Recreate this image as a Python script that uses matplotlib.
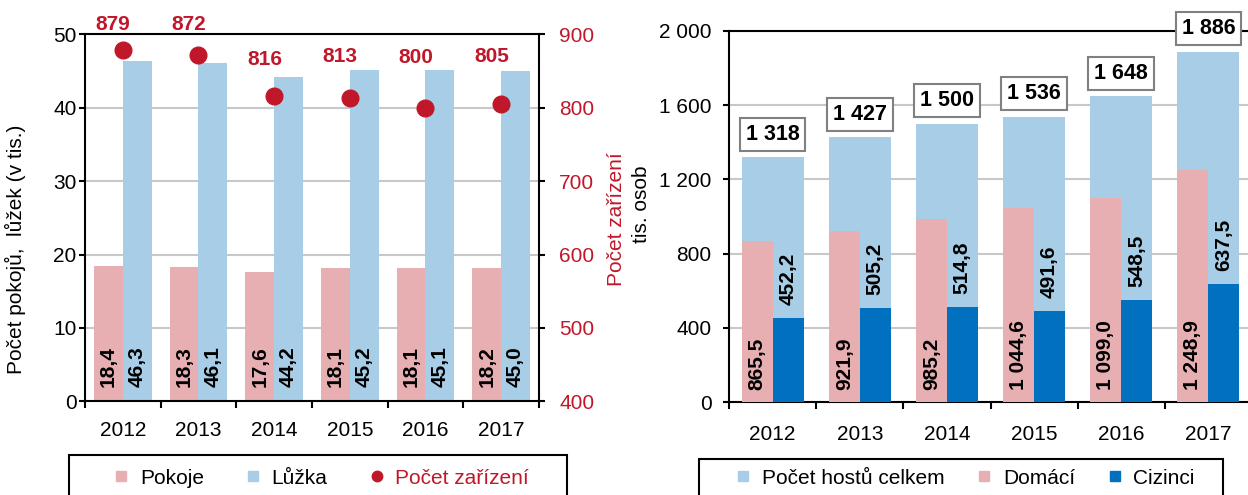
import matplotlib
matplotlib.use("Agg")
import matplotlib.pyplot as plt
from matplotlib.lines import Line2D
from matplotlib.patches import Rectangle
import numpy as np

plt.rcParams['font.family'] = ['Liberation Sans', 'DejaVu Sans']

# ---------------- data ----------------
years = ['2012', '2013', '2014', '2015', '2016', '2017']
pokoje = [18.4, 18.3, 17.6, 18.1, 18.1, 18.2]
luzka = [46.3, 46.1, 44.2, 45.2, 45.1, 45.0]
zarizeni = [879, 872, 816, 813, 800, 805]

hoste_celkem = [1318, 1427, 1500, 1536, 1648, 1886]
domaci = [865.5, 921.9, 985.2, 1044.6, 1099.0, 1248.9]
cizinci = [452.2, 505.2, 514.8, 491.6, 548.5, 637.5]

left_yticks = [0, 10, 20, 30, 40, 50]
right_yticks = [400, 500, 600, 700, 800, 900]
guest_yticks = [0, 400, 800, 1200, 1600, 2000]

# ---------------- styles ----------------
C_PINK = '#E8AFB3'
C_LBLUE = '#A7CDE7'
C_DBLUE = '#0070BF'
C_RED = '#C0182A'
C_GRID = '#C8C8C8'
FS = 15
W, H = 1248, 495
# per-label offsets (points) for the red labels above the dots
red_dy = [18.1, 21.8, 26.5, 29.7, 35.8, 34.4]
red_dx = -7.0


def fmt_num(v, dec=1):
    s = f"{v:,.{dec}f}"
    return s.replace(',', ' ').replace('.', ',')


def fmt_int(v):
    return f"{int(round(v)):,}".replace(',', ' ')


fig = plt.figure(figsize=(W / 100, H / 100), dpi=100)


def fx(px):
    return px / W


def fy(py):
    return 1 - py / H


# ============ left chart ============
ax1 = fig.add_axes([fx(85), fy(401.3), fx(539) - fx(85), fy(34.3) - fy(401.3)])
x = np.arange(len(years))
bw = 0.38
ax1.bar(x - bw / 2, pokoje, width=bw, color=C_PINK, zorder=2)
ax1.bar(x + bw / 2, luzka, width=bw, color=C_LBLUE, zorder=2)
ax1.set_xlim(-0.5, len(years) - 0.5)
ax1.set_ylim(0, 50)
ax1.set_yticks(left_yticks)
ax1.set_yticklabels([str(t) for t in left_yticks])
ax1.yaxis.grid(True, color=C_GRID, lw=1.5, zorder=0)
ax1.set_axisbelow(True)
ax1.set_xticks(x)
ax1.set_xticklabels(years)
ax1.set_xticks(np.arange(-0.5, len(years)), minor=True)
ax1.tick_params(axis='x', which='major', length=0, pad=14, labelsize=FS)
ax1.tick_params(axis='x', which='minor', length=5, width=1.5, direction='out')
ax1.tick_params(axis='y', length=4.5, width=1.5, direction='out', pad=1.5, labelsize=FS)
for s in ['left', 'bottom', 'top']:
    ax1.spines[s].set_linewidth(1.5)
ax1.spines['right'].set_visible(False)

for xi, v in zip(x, pokoje):
    ax1.text(xi - bw / 2, 2.0, fmt_num(v), rotation=90, ha='center', va='bottom',
             fontsize=FS, fontweight='bold', color='black', zorder=4)
for xi, v in zip(x, luzka):
    ax1.text(xi + bw / 2, 2.0, fmt_num(v), rotation=90, ha='center', va='bottom',
             fontsize=FS, fontweight='bold', color='black', zorder=4)

ax1.set_ylabel('Počet pokojů,  lůžek (v tis.)', fontsize=FS)
ax1.yaxis.set_label_coords((26 - 85) / 454, (401.3 - 249.5) / 367)

ax1b = ax1.twinx()
ax1b.set_ylim(400, 900)
ax1b.set_yticks(right_yticks)
ax1b.set_yticklabels([str(t) for t in right_yticks], color=C_RED)
ax1b.tick_params(axis='y', length=4.5, width=1.5, direction='out', pad=10, labelsize=FS,
                 colors=C_RED)
ax1b.tick_params(axis='y', color='black')
for s in ['left', 'bottom', 'top']:
    ax1b.spines[s].set_visible(False)
ax1b.spines['right'].set_linewidth(1.5)
ax1b.plot(x, zarizeni, 'o', color=C_RED, markersize=12, zorder=5, clip_on=False)
for xi, v, dy in zip(x, zarizeni, red_dy):
    ax1b.annotate(str(v), (xi, v), xytext=(red_dx, dy), textcoords='offset points',
                  ha='center', va='center', fontsize=FS, fontweight='bold',
                  color=C_RED, annotation_clip=False)
ax1b.set_ylabel('Počet zařízení', fontsize=FS, color=C_RED)
ax1b.yaxis.set_label_coords((607 - 85) / 454, (401.3 - 219.5) / 367)

# ============ right chart ============
ax2 = fig.add_axes([fx(729), fy(402.3), fx(1252) - fx(729), fy(30.7) - fy(402.3)])
tw = 0.71
ax2.bar(x, hoste_celkem, width=tw, color=C_LBLUE, zorder=2)
ax2.bar(x - tw / 4, domaci, width=tw / 2, color=C_PINK, zorder=3)
ax2.bar(x + tw / 4, cizinci, width=tw / 2, color=C_DBLUE, zorder=3)
ax2.set_xlim(-0.5, len(years) - 0.5)
ax2.set_ylim(0, 2000)
ax2.set_yticks(guest_yticks)
ax2.set_yticklabels([fmt_int(t) for t in guest_yticks])
ax2.yaxis.grid(True, color=C_GRID, lw=1.5, zorder=0)
ax2.set_axisbelow(True)
ax2.set_xticks(x)
ax2.set_xticklabels(years)
ax2.set_xticks(np.arange(-0.5, len(years)), minor=True)
ax2.tick_params(axis='x', which='major', length=0, pad=16, labelsize=FS)
ax2.tick_params(axis='x', which='minor', length=5, width=1.5, direction='out')
ax2.tick_params(axis='y', length=4.5, width=1.5, direction='out', pad=8, labelsize=FS)
for s in ['left', 'bottom', 'top']:
    ax2.spines[s].set_linewidth(1.5)
ax2.spines['right'].set_visible(False)

for xi, v in zip(x, domaci):
    ax2.text(xi - tw / 4, 66, fmt_num(v), rotation=90, ha='center', va='bottom',
             fontsize=FS, fontweight='bold', color='black', zorder=5)
for xi, v in zip(x, cizinci):
    ax2.text(xi + tw / 4, v + 70, fmt_num(v), rotation=90, ha='center', va='bottom',
             fontsize=FS, fontweight='bold', color='black', zorder=5)
for xi, v in zip(x, hoste_celkem):
    ax2.annotate(fmt_int(v), (xi, v), xytext=(0, 9), textcoords='offset points',
                 ha='center', va='bottom', fontsize=15.5, fontweight='bold',
                 annotation_clip=False, zorder=6,
                 bbox=dict(boxstyle='square,pad=0.28', fc='white', ec='#808080', lw=1.5))

ax2.set_ylabel('tis. osob', fontsize=FS)
ax2.yaxis.set_label_coords((651 - 729) / 523, (402.3 - 204) / 371.6)

# ============ legends ============
def add_frame(x0, x1, top):
    fig.patches.append(Rectangle((fx(x0), -0.1), fx(x1) - fx(x0), fy(top) + 0.1,
                                 transform=fig.transFigure, fill=False,
                                 ec='black', lw=1.5, zorder=10))


h_left = [Line2D([], [], marker='s', ls='none', color=C_PINK, markersize=7.5),
          Line2D([], [], marker='s', ls='none', color=C_LBLUE, markersize=7.5),
          Line2D([], [], marker='o', ls='none', color=C_RED, markersize=7.5)]
leg1 = fig.legend(h_left, ['Pokoje', 'Lůžka', 'Počet zařízení'], ncol=3,
                  loc='center', bbox_to_anchor=(fx(322.5), fy(478)),
                  fontsize=FS, frameon=False, handletextpad=0.65,
                  handlelength=0.5, columnspacing=2.1, borderpad=0, borderaxespad=0)
leg1.get_texts()[2].set_color(C_RED)
add_frame(69, 567, 455)

h_right = [Line2D([], [], marker='s', ls='none', color=C_LBLUE, markersize=7.5),
           Line2D([], [], marker='s', ls='none', color=C_PINK, markersize=7.5),
           Line2D([], [], marker='s', ls='none', color=C_DBLUE, markersize=7.5)]
leg2 = fig.legend(h_right, ['Počet hostů celkem', 'Domácí', 'Cizinci'], ncol=3,
                  loc='center', bbox_to_anchor=(fx(966.5), fy(478)),
                  fontsize=FS, frameon=False, handletextpad=0.65,
                  handlelength=0.5, columnspacing=1.65, borderpad=0, borderaxespad=0)
add_frame(699, 1223, 459)

fig.savefig('out.png', dpi=100)
